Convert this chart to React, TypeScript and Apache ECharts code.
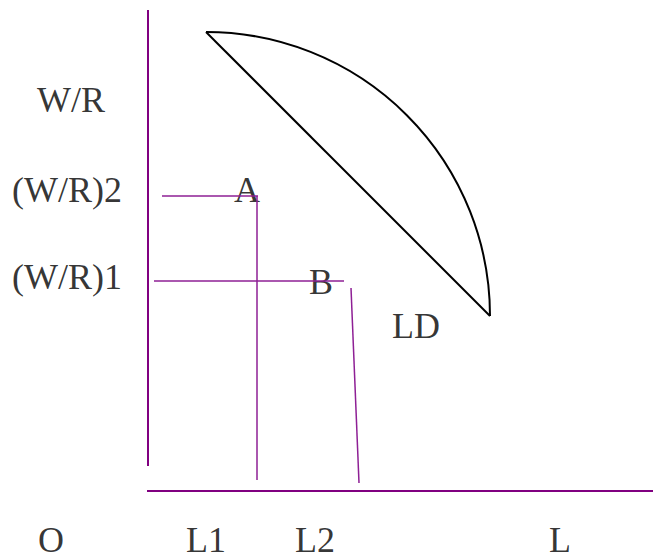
import React, { useEffect, useRef } from "react";
import * as echarts from "echarts";

// Pixel-space diagram coordinates
const yAxisLine: number[][] = [[148, 10], [148, 466]];
const xAxisLine: number[][] = [[147, 491], [653, 491]];
const lineAh: number[][] = [[162, 196], [258, 196]];
const lineAv: number[][] = [[257, 196], [257, 480]];
const lineBh: number[][] = [[154, 281], [344, 281]];
const lineBv: number[][] = [[351, 288], [359, 483]];
const ldChord: number[][] = [[206, 32], [490, 316]];
// quarter-circle LD arc: centre x, centre y, x of the arc's right end
const ldArc: number[][] = [[206, 316, 490]];

const labelTexts = ["W/R", "(W/R)2", "(W/R)1", "A", "B", "LD", "O", "L1", "L2", "L"];
const labelPos: number[][] = [[71, 100], [67, 190], [67, 277], [247, 190], [321, 282], [416, 326], [51, 540], [206, 540], [315, 540], [560, 540]];

const AXIS_COLOR = "#800080";
const THIN_COLOR = "#8e1f95";

function seg(data: number[][], color: string, width: number) {
  return {
    type: "line",
    data,
    symbol: "none",
    lineStyle: { color, width },
    silent: true,
  };
}

export default function App() {
  const ref = useRef<HTMLDivElement>(null);
  useEffect(() => {
    document.body.style.margin = "0";
    const chart = echarts.init(ref.current!, null, { renderer: "svg" });
    chart.setOption({
      animation: false,
      backgroundColor: "#ffffff",
      grid: { left: 0, right: 0, top: 0, bottom: 0 },
      xAxis: { type: "value", min: 0, max: 653, show: false },
      yAxis: { type: "value", min: 0, max: 560, inverse: true, show: false },
      series: [
        seg(yAxisLine, AXIS_COLOR, 2),
        seg(xAxisLine, AXIS_COLOR, 2),
        seg(lineAh, THIN_COLOR, 1.5),
        seg(lineAv, THIN_COLOR, 1.5),
        seg(lineBh, THIN_COLOR, 1.5),
        seg(lineBv, THIN_COLOR, 1.5),
        seg(ldChord, "#000000", 2),
        {
          type: "custom",
          silent: true,
          data: ldArc,
          renderItem: (_params: any, api: any) => {
            const c = api.coord([api.value(0), api.value(1)]);
            const e = api.coord([api.value(2), api.value(1)]);
            const r = Math.abs(e[0] - c[0]);
            return {
              type: "arc",
              shape: { cx: c[0], cy: c[1], r, startAngle: -Math.PI / 2, endAngle: 0, clockwise: true },
              style: { stroke: "#000000", lineWidth: 2, fill: null },
            };
          },
        },
        {
          type: "scatter",
          symbolSize: 0,
          silent: true,
          data: labelTexts.map((t, i) => ({ value: labelPos[i], name: t })),
          label: {
            show: true,
            position: "inside",
            formatter: (p: any) => p.name,
            fontFamily: "Liberation Serif, Times New Roman, serif",
            fontSize: 36,
            lineHeight: 30,
            color: "#000000",
          },
        },
      ],
    });
    return () => chart.dispose();
  }, []);
  return <div ref={ref} style={{ width: 653, height: 560 }} />;
}
